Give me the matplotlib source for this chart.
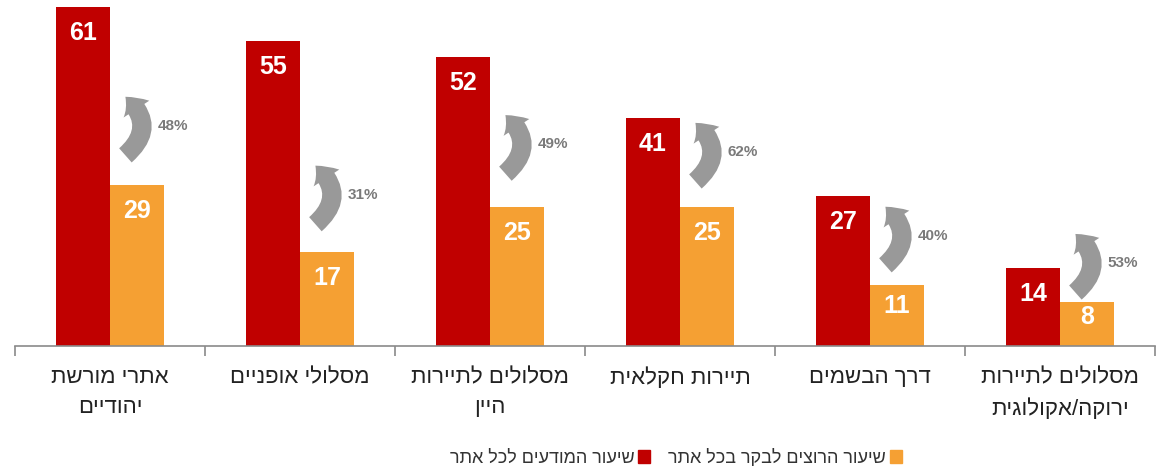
import matplotlib
matplotlib.use('Agg')
import matplotlib.pyplot as plt
from matplotlib.patches import FancyArrowPatch, Patch
import numpy as np

plt.rcParams['font.family'] = ['Liberation Sans', 'DejaVu Sans']

# data
categories = ['אתרי מורשת\nיהודיים', 'מסלולי אופניים', 'מסלולים לתיירות\nהיין',
              'תיירות חקלאית', 'דרך הבשמים', 'מסלולים לתיירות\nירוקה/אקולוגית']
aware = [61, 55, 52, 41, 27, 14]
want_visit = [29, 17, 25, 25, 11, 8]
conversion = [48, 31, 49, 62, 40, 53]
series_names = ['שיעור המודעים לכל אתר', 'שיעור הרוצים לבקר בכל אתר']

# height of each curved arrow (layout only)
arrow_mid = [39.6, 27.2, 36.3, 34.9, 19.8, 14.9]

red = '#C00000'
orange = '#F5A033'
grey = '#8a8a8a'


def rtl(s):
    # matplotlib has no bidi, so flip each Hebrew line by hand
    return '\n'.join(line[::-1] for line in s.split('\n'))


fig = plt.figure(figsize=(11.63, 4.68), dpi=100)
ax = fig.add_axes([15 / 1163, 122 / 468, 1140 / 1163, 346 / 468])

x = np.arange(len(categories))
w = 0.285
ax.bar(x - w / 2, aware, w, color=red)
ax.bar(x + w / 2, want_visit, w, color=orange)

# value labels inside the bars
for i in range(len(x)):
    for xx, v in [(x[i] - w / 2, aware[i]), (x[i] + w / 2, want_visit[i])]:
        off = min(4.7, v * 0.35)
        ax.text(xx, v - off, str(v), ha='center', va='center', color='white',
                fontsize=18, fontweight='bold')

# curved arrows with conversion rate
for i in range(len(x)):
    x0 = x[i] + 0.07
    arr = FancyArrowPatch((x0, arrow_mid[i] - 5.6), (x0, arrow_mid[i] + 5.6),
                          connectionstyle='arc3,rad=0.6',
                          arrowstyle='simple,head_length=0.7,head_width=1.3,tail_width=0.8',
                          mutation_scale=17, color='#999999', lw=0)
    ax.add_patch(arr)
    ax.text(x[i] + 0.25, arrow_mid[i], f'{conversion[i]}%', ha='left', va='center',
            color='#7a7a7a', fontsize=11, fontweight='bold')

ax.set_xlim(-0.5, 5.5)
ax.set_ylim(0, 62.3)
ax.set_xticks(x, [rtl(c) for c in categories], fontsize=16, color='#222222',
              linespacing=1.6)
ax.set_xticks(np.arange(-0.5, 6), minor=True)
ax.tick_params(axis='x', which='major', length=0, pad=15)
ax.tick_params(axis='x', which='minor', length=7, width=1.2, color=grey)
ax.set_yticks([])
for s in ['left', 'top', 'right']:
    ax.spines[s].set_visible(False)
ax.spines['bottom'].set_color(grey)
ax.spines['bottom'].set_linewidth(1.2)

handles = [Patch(color=red, label=rtl(series_names[0])),
           Patch(color=orange, label=rtl(series_names[1]))]
fig.legend(handles=handles, loc='center', bbox_to_anchor=(676 / 1163, 1 - 458 / 468),
           ncol=2, frameon=False, markerfirst=False, fontsize=13,
           labelcolor='#333333', handlelength=0.7, handleheight=0.7,
           handletextpad=0.2, columnspacing=1.0)

fig.savefig('out.png', dpi=100)
